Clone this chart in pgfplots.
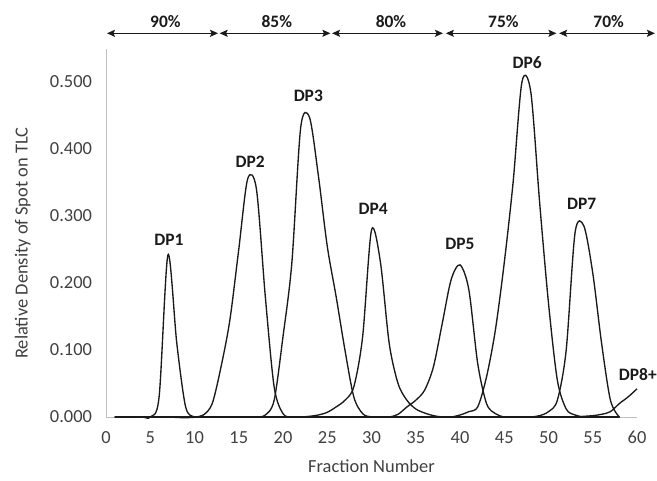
\documentclass[border=0pt]{standalone}
\usepackage{fontspec}
\setmainfont{Carlito}
\usepackage{pgfplots}
\pgfplotsset{compat=1.18}
\usetikzlibrary{arrows.meta}
\definecolor{txt}{HTML}{404040}
\definecolor{ink}{HTML}{1A1A1A}
\definecolor{axgray}{HTML}{BFBFBF}
\tikzset{curve/.style={draw=ink, solid, line width=1.35bp, smooth, mark=none}}
\begin{document}
\begin{tikzpicture}
\begin{axis}[
  at={(0,0)}, anchor=south west,
  scale only axis, width=531bp, height=368.5bp,
  xmin=0, xmax=60, ymin=0, ymax=0.55,
  axis lines*=left,
  axis on top=false,
  axis line style={draw=axgray, line width=0.9bp},
  xtick={0,5,...,60}, ytick={0,0.1,0.2,0.3,0.4,0.5},
  major tick length=0pt,
  tick style={draw=none},
  tick label style={font=\fontsize{18.5}{22}\selectfont, text=txt},
  /pgf/number format/assume math mode=true,
  yticklabel style={/pgf/number format/fixed, /pgf/number format/fixed zerofill, /pgf/number format/precision=3, xshift=-10.5bp},
  xticklabel style={yshift=-11bp},
  xlabel={Fraction Number}, ylabel={Relative Density of Spot on TLC},
  every axis x label/.style={at={(rel axis cs:0.5,-0.133)}, anchor=center, font=\fontsize{18.5}{22}\selectfont, text=txt},
  every axis y label/.style={at={(rel axis cs:-0.157,0.472)}, rotate=90, anchor=center, font=\fontsize{18.5}{22}\selectfont, text=txt},
  clip=false,
]
% DP1
\addplot[curve] coordinates {(1,0)(4,0)(5,0)(6,0.03)(7,0.242)(8,0.11)(9,0.015)(10,0)(11,0)(58,0)};
% DP2
\addplot[curve] coordinates {(1,0)(9,0)(10,0)(11,0.003)(12,0.02)(13,0.075)(14,0.145)(15,0.25)(16,0.355)(17,0.34)(18,0.18)(19,0.045)(20,0.005)(21,0)(22,0)(58,0)};
% DP3
\addplot[curve] coordinates {(1,0)(16,0)(17,0)(18,0.003)(19,0.025)(20,0.12)(21,0.23)(22,0.432)(23,0.447)(24,0.36)(25,0.255)(26,0.18)(27,0.1)(28,0.03)(29,0.005)(30,0)(31,0)(58,0)};
% DP4
\addplot[curve] coordinates {(1,0)(21,0)(22,0)(23,0.001)(24,0.003)(25,0.007)(26,0.015)(27,0.025)(28,0.045)(29,0.12)(30,0.279)(31,0.232)(32,0.11)(33,0.05)(34,0.025)(35,0.012)(36,0.006)(37,0.002)(38,0)(39,0)(58,0)};
% DP5
\addplot[curve] coordinates {(1,0)(31,0)(32,0)(33,0.004)(34,0.015)(35,0.025)(36,0.04)(37,0.075)(38,0.14)(39,0.205)(40,0.227)(41,0.19)(42,0.08)(43,0.02)(44,0.005)(45,0)(46,0)(58,0)};
% DP6
\addplot[curve] coordinates {(1,0)(38,0)(39,0)(40,0.003)(41,0.008)(42,0.015)(43,0.06)(44,0.13)(45,0.23)(46,0.35)(47,0.5)(48,0.485)(49,0.32)(50,0.17)(51,0.055)(52,0.012)(53,0.003)(54,0)(55,0)(58,0)};
% DP7
\addplot[curve] coordinates {(1,0)(47,0)(48,0)(49,0.002)(50,0.008)(51,0.025)(52,0.1)(53,0.275)(54,0.285)(55,0.215)(56,0.11)(57,0.025)(58,0)};
% DP8+
\addplot[curve] coordinates {(1,0)(52,0)(53,0)(54,0.001)(55,0.002)(56,0.004)(57,0.008)(58,0.02)(59,0.03)(60,0.042)};

% peak labels
\begin{scope}[every node/.style={font=\fontsize{17.5}{21}\selectfont\bfseries, text=ink, anchor=center, inner sep=0pt}]
\node at (axis cs:7.12,0.264) {DP1};
\node at (axis cs:16.3,0.381) {DP2};
\node at (axis cs:22.86,0.479) {DP3};
\node at (axis cs:30.2,0.311) {DP4};
\node at (axis cs:40.0,0.258) {DP5};
\node at (axis cs:47.6,0.529) {DP6};
\node at (axis cs:53.75,0.318) {DP7};
\node at (axis cs:60.1,0.064) {DP8+};
% solvent bands
\node at (axis cs:6.71,0.590) {90\%};
\node at (axis cs:19.3,0.590) {85\%};
\node at (axis cs:32.2,0.590) {80\%};
\node at (axis cs:44.9,0.590) {75\%};
\node at (axis cs:56.8,0.590) {70\%};
\end{scope}
\begin{scope}[ink, line width=1.4bp, {Stealth[length=8bp,width=7bp,inset=1.5bp]}-{Stealth[length=8bp,width=7bp,inset=1.5bp]}]
\draw (axis cs:0.11,0.5727) -- (axis cs:12.66,0.5727);
\draw (axis cs:12.84,0.5727) -- (axis cs:25.36,0.5727);
\draw (axis cs:25.54,0.5727) -- (axis cs:38.08,0.5727);
\draw (axis cs:38.4,0.5727) -- (axis cs:50.9,0.5727);
\draw (axis cs:51.2,0.5727) -- (axis cs:62.03,0.5727);
\end{scope}
\end{axis}
\pgfresetboundingbox
\path[use as bounding box] (-106bp,-64bp) rectangle (551bp,417bp);
\end{tikzpicture}
\end{document}
